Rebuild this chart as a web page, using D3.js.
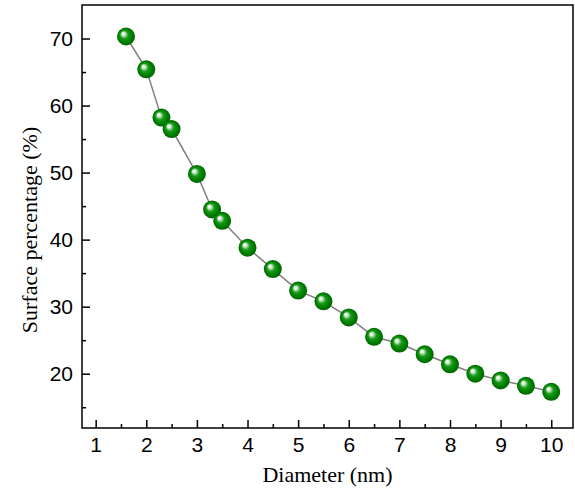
<!DOCTYPE html>
<html><head><meta charset="utf-8">
<script src="https://cdn.jsdelivr.net/npm/d3@7"></script>
<style>body{margin:0;background:#fff;}svg{display:block;}</style>
</head><body>
<script>
const diameters = [1.6, 2, 2.3, 2.5, 3, 3.3, 3.5, 4, 4.5, 5, 5.5, 6, 6.5, 7, 7.5, 8, 8.5, 9, 9.5, 10];
const surfacePct = [70.3, 65.4, 58.2, 56.5, 49.8, 44.5, 42.8, 38.8, 35.6, 32.4, 30.8, 28.4, 25.5, 24.5, 22.9, 21.4, 20.0, 19.0, 18.2, 17.3];
const xTicks = [1, 2, 3, 4, 5, 6, 7, 8, 9, 10];
const yTicks = [20, 30, 40, 50, 60, 70];
const xMinor = [1.5, 2.5, 3.5, 4.5, 5.5, 6.5, 7.5, 8.5, 9.5];
const yMinor = [15, 25, 35, 45, 55, 65];

const W = 575, H = 491;
const L = 82, R = 573, T = 5, B = 428;
const svg = d3.select("body").append("svg").attr("width", W).attr("height", H);
const x = d3.scaleLinear().domain([0.73, 10.43]).range([L, R]);
const y = d3.scaleLinear().domain([11.9, 75]).range([B, T]);

const defs = svg.append("defs");
const g = defs.append("radialGradient").attr("id", "ball")
  .attr("cx", "50%").attr("cy", "50%").attr("r", "50%")
  .attr("fx", "32%").attr("fy", "32%");
g.append("stop").attr("offset", "0%").attr("stop-color", "#ffffff");
g.append("stop").attr("offset", "18%").attr("stop-color", "#d8efd8");
g.append("stop").attr("offset", "45%").attr("stop-color", "#1a9a1a");
g.append("stop").attr("offset", "75%").attr("stop-color", "#008000");
g.append("stop").attr("offset", "100%").attr("stop-color", "#006400");

// axes
const xAxis = d3.axisBottom(x).tickValues(xTicks).tickSize(-8).tickPadding(9).tickFormat(d3.format("d"));
const yAxis = d3.axisLeft(y).tickValues(yTicks).tickSize(-8).tickPadding(9).tickFormat(d3.format("d"));
const gx = svg.append("g").attr("transform", `translate(0,${B})`).call(xAxis);
const gy = svg.append("g").attr("transform", `translate(${L},0)`).call(yAxis);
svg.append("g").attr("transform", `translate(0,${B})`)
  .call(d3.axisBottom(x).tickValues(xMinor).tickSize(-4).tickFormat(""));
svg.append("g").attr("transform", `translate(${L},0)`)
  .call(d3.axisLeft(y).tickValues(yMinor).tickSize(-4).tickFormat(""));
svg.selectAll(".domain").remove();
svg.selectAll(".tick line").attr("stroke", "#000").attr("stroke-width", 1.5);
svg.selectAll(".tick text").attr("font-family", "Liberation Sans, Arial, sans-serif")
  .attr("font-size", 21).attr("fill", "#000");

svg.append("rect").attr("x", L).attr("y", T).attr("width", R - L).attr("height", B - T)
  .attr("fill", "none").attr("stroke", "#000").attr("stroke-width", 1.5);

const data = diameters.map((d, i) => [d, surfacePct[i]]);
svg.append("path").datum(data)
  .attr("d", d3.line().x(d => x(d[0])).y(d => y(d[1])))
  .attr("fill", "none").attr("stroke", "#808080").attr("stroke-width", 1.5);

svg.append("g").selectAll("circle").data(data).join("circle")
  .attr("cx", d => x(d[0])).attr("cy", d => y(d[1])).attr("r", 9)
  .attr("fill", "url(#ball)");

svg.append("text").attr("x", (L + R) / 2).attr("y", 482).attr("text-anchor", "middle")
  .attr("font-family", "Liberation Serif, Times New Roman, serif").attr("font-size", 22)
  .text("Diameter (nm)");
svg.append("text").attr("transform", `translate(37,230) rotate(-90)`)
  .attr("text-anchor", "middle")
  .attr("font-family", "Liberation Serif, Times New Roman, serif").attr("font-size", 22)
  .text("Surface percentage (%)");
</script>
</body></html>
